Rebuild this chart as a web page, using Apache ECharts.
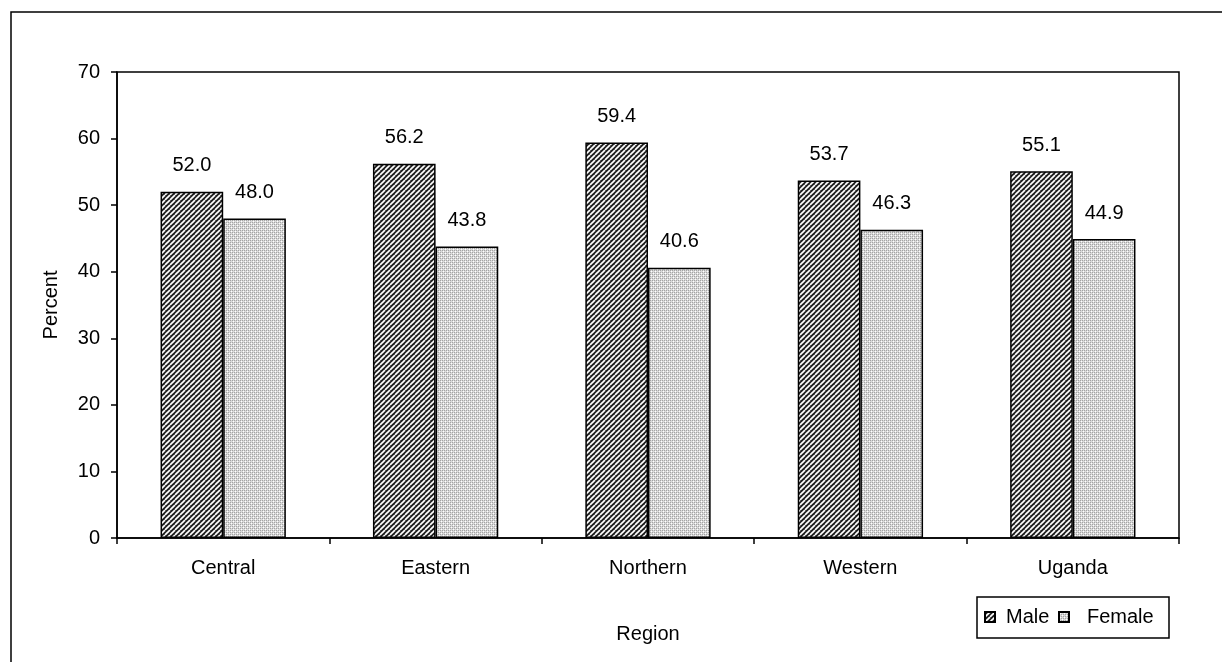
<!DOCTYPE html>
<html>
<head>
<meta charset="utf-8">
<script src="https://cdn.jsdelivr.net/npm/echarts@6/dist/echarts.min.js"></script>
<style>
html,body{margin:0;padding:0;background:#fff;}
#chart{width:1222px;height:662px;}
</style>
</head>
<body>
<div id="chart"></div>
<script>
const categories = ['Central', 'Eastern', 'Northern', 'Western', 'Uganda'];
const maleValues = [52.0, 56.2, 59.4, 53.7, 55.1];
const femaleValues = [48.0, 43.8, 40.6, 46.3, 44.9];
const yTicks = [0, 10, 20, 30, 40, 50, 60, 70];

function makeStripe() {
  const s = 5;
  const c = document.createElement('canvas');
  c.width = s; c.height = s;
  const g = c.getContext('2d');
  g.fillStyle = '#1e1e1e';
  g.fillRect(0, 0, s, s);
  g.strokeStyle = '#ffffff';
  g.lineWidth = 1.7;
  for (let k = -2; k <= 2; k++) {
    g.beginPath();
    g.moveTo(k * s, s);
    g.lineTo(k * s + s, 0);
    g.stroke();
  }
  return c;
}
function makeCross() {
  const c = document.createElement('canvas');
  c.width = 4; c.height = 4;
  const g = c.getContext('2d');
  g.fillStyle = '#d9d9d9';
  g.fillRect(0, 0, 4, 4);
  g.fillStyle = '#a4a4a4';
  g.fillRect(0, 0, 1, 1); g.fillRect(2, 2, 1, 1);
  g.fillRect(2, 0, 1, 1); g.fillRect(0, 2, 1, 1);
  g.fillStyle = '#ffffff';
  g.fillRect(1, 1, 1, 1); g.fillRect(3, 3, 1, 1);
  return c;
}
const stripe = makeStripe();
const cross = makeCross();
const FONT = "'Liberation Sans', Arial, sans-serif";
const FS = 20;

const chart = echarts.init(document.getElementById('chart'));
const labelCfg = {
  show: true, position: 'top', distance: 16,
  fontSize: FS, color: '#000', fontFamily: FONT,
  formatter: p => p.value.toFixed(1)
};
chart.setOption({
  animation: false,
  backgroundColor: '#fff',
  textStyle: { fontFamily: FONT },
  grid: {
    left: 117, right: 43, top: 72, bottom: 124,
    show: true, borderColor: '#000', borderWidth: 1.5, backgroundColor: 'transparent'
  },
  graphic: [{
    type: 'rect', z: 0,
    shape: { x: 11, y: 12, width: 1400, height: 800 },
    style: { fill: 'none', stroke: '#000', lineWidth: 1.5 }
  }, {
    type: 'rect', z: 0,
    shape: { x: 977, y: 597, width: 192, height: 41 },
    style: { fill: '#fff', stroke: '#000', lineWidth: 1.5 }
  }],
  legend: [{
    data: ['Male'], left: 984, top: 607, padding: 0,
    icon: 'rect', itemWidth: 10, itemHeight: 10,
    textStyle: { fontSize: FS, color: '#000', fontFamily: FONT, padding: [0, 0, 0, 6] }
  }, {
    data: ['Female'], left: 1058, top: 607, padding: 0,
    icon: 'rect', itemWidth: 10, itemHeight: 10,
    textStyle: { fontSize: FS, color: '#000', fontFamily: FONT, padding: [0, 0, 0, 13] }
  }],
  xAxis: {
    type: 'category', data: categories,
    name: 'Region', nameLocation: 'middle', nameGap: 86,
    nameTextStyle: { fontSize: FS, color: '#000', fontFamily: FONT },
    axisLine: { lineStyle: { color: '#000', width: 1.5 } },
    axisTick: { show: true, length: 6, lineStyle: { color: '#000', width: 1.5 } },
    axisLabel: { fontSize: FS, color: '#000', margin: 20, fontFamily: FONT },
    splitLine: { show: false }
  },
  yAxis: {
    type: 'value', min: yTicks[0], max: yTicks[yTicks.length - 1], interval: 10,
    name: 'Percent', nameLocation: 'middle', nameGap: 56,
    nameTextStyle: { fontSize: FS, color: '#000', fontFamily: FONT },
    axisLine: { show: true, lineStyle: { color: '#000', width: 1.5 } },
    axisTick: { show: true, length: 6, lineStyle: { color: '#000', width: 1.5 } },
    axisLabel: { fontSize: FS, color: '#000', margin: 17, fontFamily: FONT },
    splitLine: { show: false }
  },
  series: [{
    name: 'Male', type: 'bar', data: maleValues,
    barGap: '0%', barCategoryGap: '41%',
    itemStyle: { color: { image: stripe, repeat: 'repeat' }, borderColor: '#000', borderWidth: 1.5 },
    label: labelCfg
  }, {
    name: 'Female', type: 'bar', data: femaleValues,
    itemStyle: { color: { image: cross, repeat: 'repeat' }, borderColor: '#000', borderWidth: 1.5 },
    label: labelCfg
  }]
});
</script>
</body>
</html>
